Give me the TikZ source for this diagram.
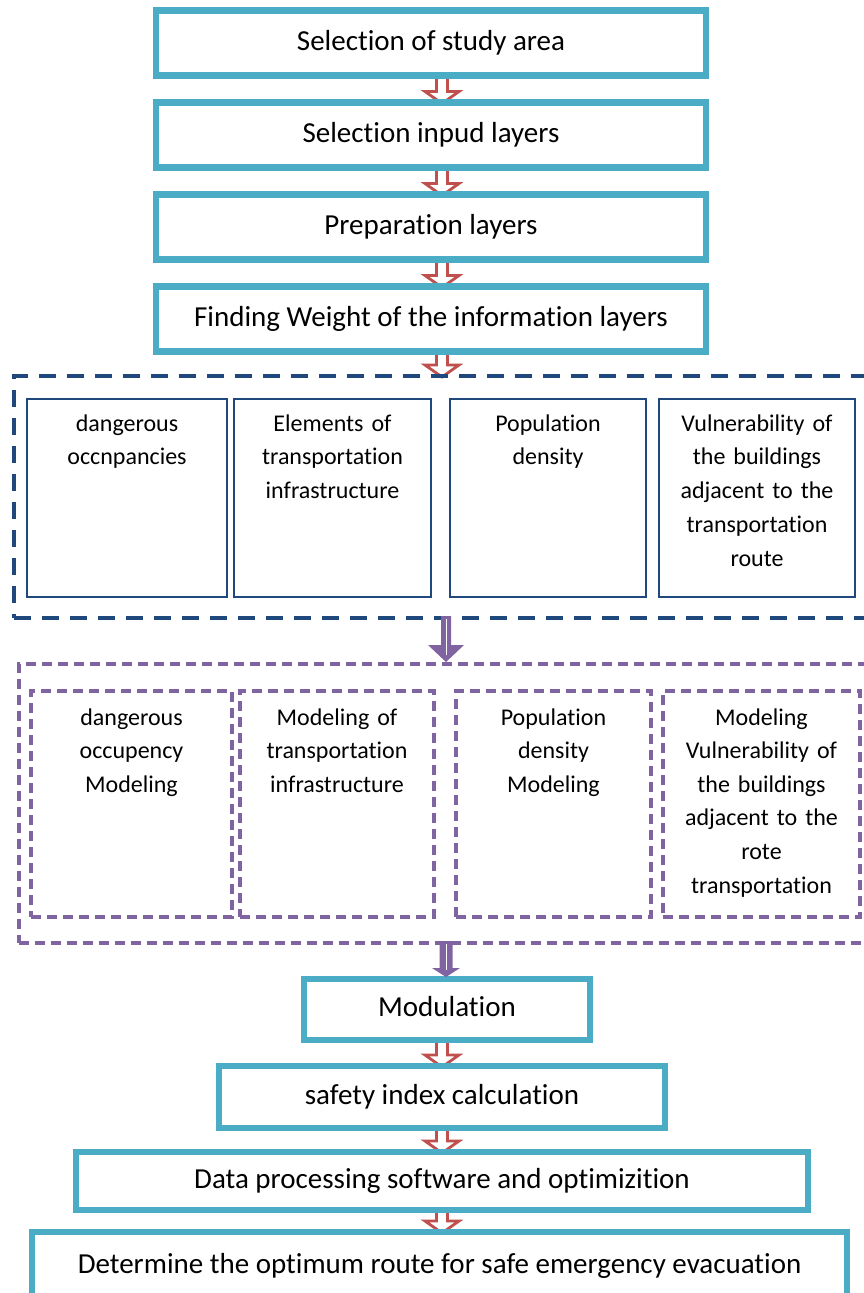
\documentclass[tikz,border=0pt]{standalone}
\usepackage{fontspec}
\setmainfont{Carlito}[Ligatures={NoCommon,NoRare,NoContextual}]
\usetikzlibrary{calc, backgrounds}

\definecolor{stagecol}{HTML}{4BACC6}
\definecolor{flowred}{HTML}{C0504D}
\definecolor{layercol}{HTML}{1F497D}
\definecolor{modelcol}{HTML}{8064A2}

\newcommand{\hollowarrow}[2]{%
  \draw [flowarrow] ($(#1.south -| redx)+(-5.5,0)$) -- ($(#2.north -| redx)+(-5.5,-11)$)
    -- ($(#2.north -| redx)+(-17,-11)$) -- ($(#2.north -| redx)+(0,1)$)
    -- ($(#2.north -| redx)+(17,-11)$) -- ($(#2.north -| redx)+(5.5,-11)$)
    -- ($(#1.south -| redx)+(5.5,0)$) -- cycle;}

\newcommand{\fillarrow}[5]{%
  \fill [modelcol] ($(#1.south -| purx)+(-#3,-2)$) -- ($(#2.north -| purx)+(-#3,-2-#5)$)
    -- ($(#2.north -| purx)+(-#4,-2-#5)$) -- ($(#2.north -| purx)+(0,-2)$)
    -- ($(#2.north -| purx)+(#4,-2-#5)$) -- ($(#2.north -| purx)+(#3,-2-#5)$)
    -- ($(#1.south -| purx)+(#3,-2)$) -- cycle;
  \draw [white, line width=0.9pt] ($(#1.south -| purx)+(0,1)$) -- ($(#2.north -| purx)+(0,-9)$);}

\begin{document}
\begin{tikzpicture}[x=1pt, y=-1pt,
    stage/.style={draw=stagecol, fill=white, line width=6.5pt, outer sep=0pt, inner sep=0pt,
      minimum height=65pt, text height=20pt, text depth=6pt,
      font=\fontsize{29pt}{35pt}\selectfont},
    flowarrow/.style={draw=flowred, fill=white, line width=2.8pt},
    layerframe/.style={draw=layercol, line width=4.5pt, dash pattern=on 17pt off 11pt, outer sep=0pt},
    modelframe/.style={draw=modelcol, line width=3.2pt, dash pattern=on 10pt off 6pt, outer sep=0pt},
    layerbox/.style={draw=layercol, line width=1.3pt, anchor=north west, inner sep=0pt, outer sep=0pt,
      align=center, text height=32pt, text depth=166pt,
      font=\fontsize{24pt}{33.8pt}\selectfont},
    modelbox/.style={modelframe, anchor=north west, inner sep=0pt,
      align=center, text height=34pt, text depth=192pt,
      font=\fontsize{24pt}{33.6pt}\selectfont}]

  \useasboundingbox (0,0) rectangle (864,1293);
  \coordinate (redx) at (442,0);
  \coordinate (purx) at (446,0);

  \node [stage, minimum width=550pt] (area) at (431,43) {Selection of study area};
  \node [stage, minimum width=550pt] (inputs) at (431,135) {Selection inpud layers};
  \node [stage, minimum width=550pt] (prep) at (431,227) {Preparation layers};
  \node [stage, minimum width=550pt] (weight) at (431,319) {Finding Weight of the information layers};

  \node [layerframe, minimum width=866pt, minimum height=242pt] (layers) at (447,497) {};
  \node [layerbox, text width=200pt] (occ) at (27,399) {dangerous\\occnpancies};
  \node [layerbox, text width=197pt] (infra) at (234,399) {Elements of\\transportation\\infrastructure};
  \node [layerbox, text width=196pt] (dens) at (450,399) {Population\\density};
  \node [layerbox, text width=196pt] (vuln) at (659,399) {Vulnerability of\\the buildings\\adjacent to the\\transportation\\route};

  \node [modelframe, minimum width=861pt, minimum height=279pt] (models) at (449.5,803.5) {};
  \node [modelbox, text width=201pt] (occmod) at (31,691) {dangerous\\occupency\\Modeling};
  \node [modelbox, text width=194pt] (inframod) at (240,691) {Modeling of\\transportation\\infrastructure};
  \node [modelbox, text width=195pt] (densmod) at (456,691) {Population\\density\\Modeling};
  \node [modelbox, text width=197pt] (vulnmod) at (663,691) {Modeling\\Vulnerability of\\the buildings\\adjacent to the\\rote\\transportation};

  \node [stage, minimum width=286pt, minimum height=61pt] (mod) at (447,1009.5) {Modulation};
  \node [stage, minimum width=446pt, minimum height=62pt] (safety) at (442,1097) {safety index calculation};
  \node [stage, minimum width=732pt, minimum height=58pt] (soft) at (442,1181) {Data processing software and optimizition};
  \node [stage, minimum width=815pt, minimum height=68pt] (route) at (439.5,1266) {Determine the optimum route for safe emergency evacuation};

  \begin{scope}[on background layer]
    \hollowarrow{area}{inputs}
    \hollowarrow{inputs}{prep}
    \hollowarrow{prep}{weight}
    \hollowarrow{weight}{layers}
    \hollowarrow{mod}{safety}
    \hollowarrow{safety}{soft}
    \hollowarrow{soft}{route}
  \end{scope}

  \fillarrow{layers}{models}{5}{18}{17}
  \fillarrow{models}{mod}{6.5}{14}{9}
\end{tikzpicture}
\end{document}
